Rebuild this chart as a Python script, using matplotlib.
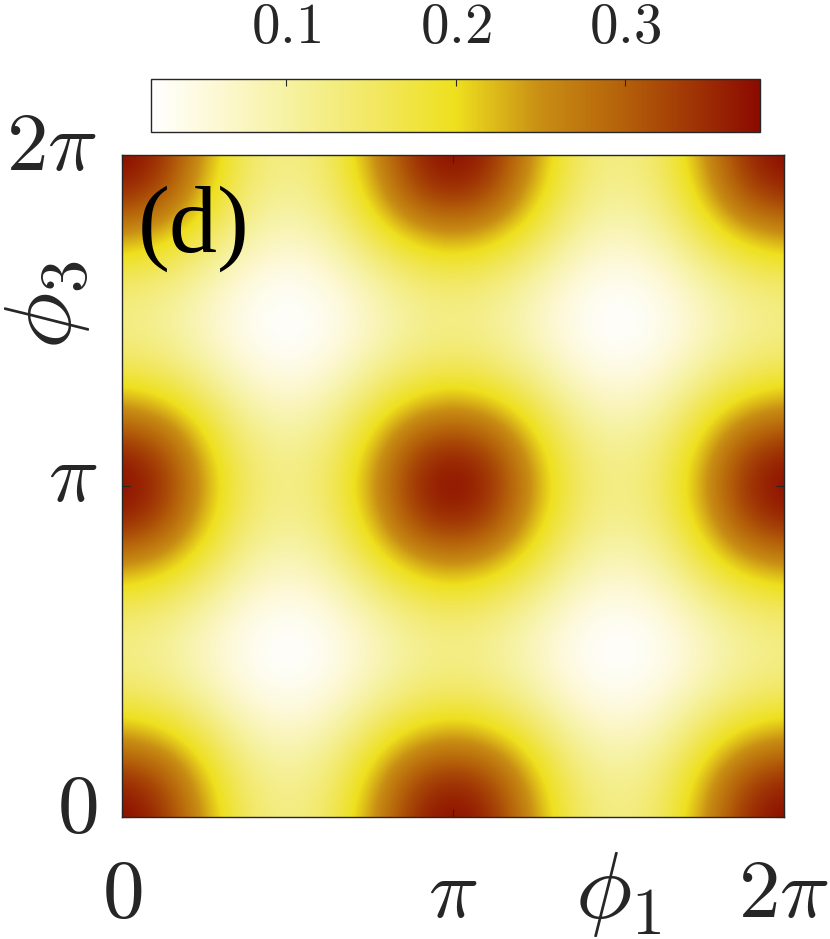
import numpy as np
import matplotlib
matplotlib.use("Agg")
import matplotlib.pyplot as plt
from matplotlib.colors import LinearSegmentedColormap, Normalize
from matplotlib.cm import ScalarMappable
from matplotlib.transforms import ScaledTranslation

# values on a pi/8 grid, phi3 (rows, from 0 up) by phi1 (columns)
phi_ticks = [0, np.pi, 2 * np.pi]
phi_labels = ["$0$", r"$\pi$", r"$2\pi$"]
cbar_ticks = [0.1, 0.2, 0.3]
cbar_labels = ["$0.1$", "$0.2$", "$0.3$"]
vmin, vmax = 0.02, 0.38

density = [
    [.385, .35, .24, .15, .12, .15, .24, .35, .385, .35, .24, .15, .12, .15, .24, .35, .385],
    [.35, .315, .215, .135, .105, .135, .215, .315, .35, .315, .215, .135, .105, .135, .215, .315, .35],
    [.24, .215, .16, .095, .07, .095, .16, .215, .24, .215, .16, .095, .07, .095, .16, .215, .24],
    [.15, .135, .095, .05, .03, .05, .095, .135, .15, .135, .095, .05, .03, .05, .095, .135, .15],
    [.12, .105, .07, .03, .015, .03, .07, .105, .12, .105, .07, .03, .015, .03, .07, .105, .12],
    [.15, .135, .095, .05, .03, .05, .095, .135, .15, .135, .095, .05, .03, .05, .095, .135, .15],
    [.24, .215, .16, .095, .07, .095, .16, .215, .24, .215, .16, .095, .07, .095, .16, .215, .24],
    [.35, .315, .215, .135, .105, .135, .215, .315, .35, .315, .215, .135, .105, .135, .215, .315, .35],
    [.385, .35, .24, .15, .12, .15, .24, .35, .385, .35, .24, .15, .12, .15, .24, .35, .385],
    [.35, .315, .215, .135, .105, .135, .215, .315, .35, .315, .215, .135, .105, .135, .215, .315, .35],
    [.24, .215, .16, .095, .07, .095, .16, .215, .24, .215, .16, .095, .07, .095, .16, .215, .24],
    [.15, .135, .095, .05, .03, .05, .095, .135, .15, .135, .095, .05, .03, .05, .095, .135, .15],
    [.12, .105, .07, .03, .015, .03, .07, .105, .12, .105, .07, .03, .015, .03, .07, .105, .12],
    [.15, .135, .095, .05, .03, .05, .095, .135, .15, .135, .095, .05, .03, .05, .095, .135, .15],
    [.24, .215, .16, .095, .07, .095, .16, .215, .24, .215, .16, .095, .07, .095, .16, .215, .24],
    [.35, .315, .215, .135, .105, .135, .215, .315, .35, .315, .215, .135, .105, .135, .215, .315, .35],
    [.385, .35, .24, .15, .12, .15, .24, .35, .385, .35, .24, .15, .12, .15, .24, .35, .385],
]

plt.rcParams["mathtext.fontset"] = "cm"
W, H = 830, 939
DARK = "#262626"


def px_axes(fig, x0, y0, x1, y1):
    # pixel box measured from the top left of the image
    return fig.add_axes([x0 / W, 1 - y1 / H, (x1 - x0) / W, (y1 - y0) / H])


def stop(v):
    return (v - vmin) / (vmax - vmin)


cmap = LinearSegmentedColormap.from_list(
    "white_yellow_red",
    [
        (stop(0.02), "#ffffff"),
        (stop(0.06), "#fdf8d2"),
        (stop(0.10), "#f6f2a2"),
        (stop(0.15), "#f2e864"),
        (stop(0.20), "#eee01e"),
        (stop(0.25), "#c98e14"),
        (stop(0.30), "#b4600a"),
        (stop(0.38), "#8b0a00"),
    ],
    N=512,
)
norm = Normalize(vmin, vmax)

fig = plt.figure(figsize=(W / 100, H / 100), dpi=100)

ax = px_axes(fig, 122, 155, 784, 817)
half = np.pi / 16
ax.imshow(
    density,
    origin="lower",
    extent=[-half, 2 * np.pi + half, -half, 2 * np.pi + half],
    cmap=cmap,
    norm=norm,
    interpolation="bicubic",
    aspect="auto",
)
ax.set_xlim(0, 2 * np.pi)
ax.set_ylim(0, 2 * np.pi)
ax.set_xticks(phi_ticks, phi_labels)
ax.set_yticks(phi_ticks, phi_labels)
ax.tick_params(direction="in", length=6, width=0.8, color=DARK, labelsize=60, labelcolor=DARK,
               top=True, right=True)
ax.tick_params(axis="x", pad=26)
ax.tick_params(axis="y", pad=18)
for s in ax.spines.values():
    s.set_linewidth(1.0)
    s.set_color(DARK)

# y tick labels sit a bit above their ticks
shift = ScaledTranslation(0, 12 / 72, fig.dpi_scale_trans)
for lab in ax.get_yticklabels():
    lab.set_transform(lab.get_transform() + shift)

fig.text(138 / W, 1 - 252 / H, "(d)", fontsize=69, family="Liberation Serif", color="black")
fig.text(618 / W, 1 - 893 / H, r"$\phi_1$", fontsize=68, color=DARK, ha="center", va="center")
fig.text(46 / W, 1 - 305 / H, r"$\phi_3$", fontsize=68, color=DARK, ha="center", va="center", rotation=90)

cax = px_axes(fig, 151, 79, 760, 132)
cb = fig.colorbar(ScalarMappable(norm=norm, cmap=cmap), cax=cax, orientation="horizontal")
cb.set_ticks(cbar_ticks, labels=cbar_labels)
cax.xaxis.set_ticks_position("top")
cax.tick_params(direction="in", length=5, width=0.8, color=DARK, labelsize=41, labelcolor=DARK, pad=17)
cb.outline.set_linewidth(1.0)
cb.outline.set_edgecolor(DARK)

fig.savefig("out.png", dpi=100)
